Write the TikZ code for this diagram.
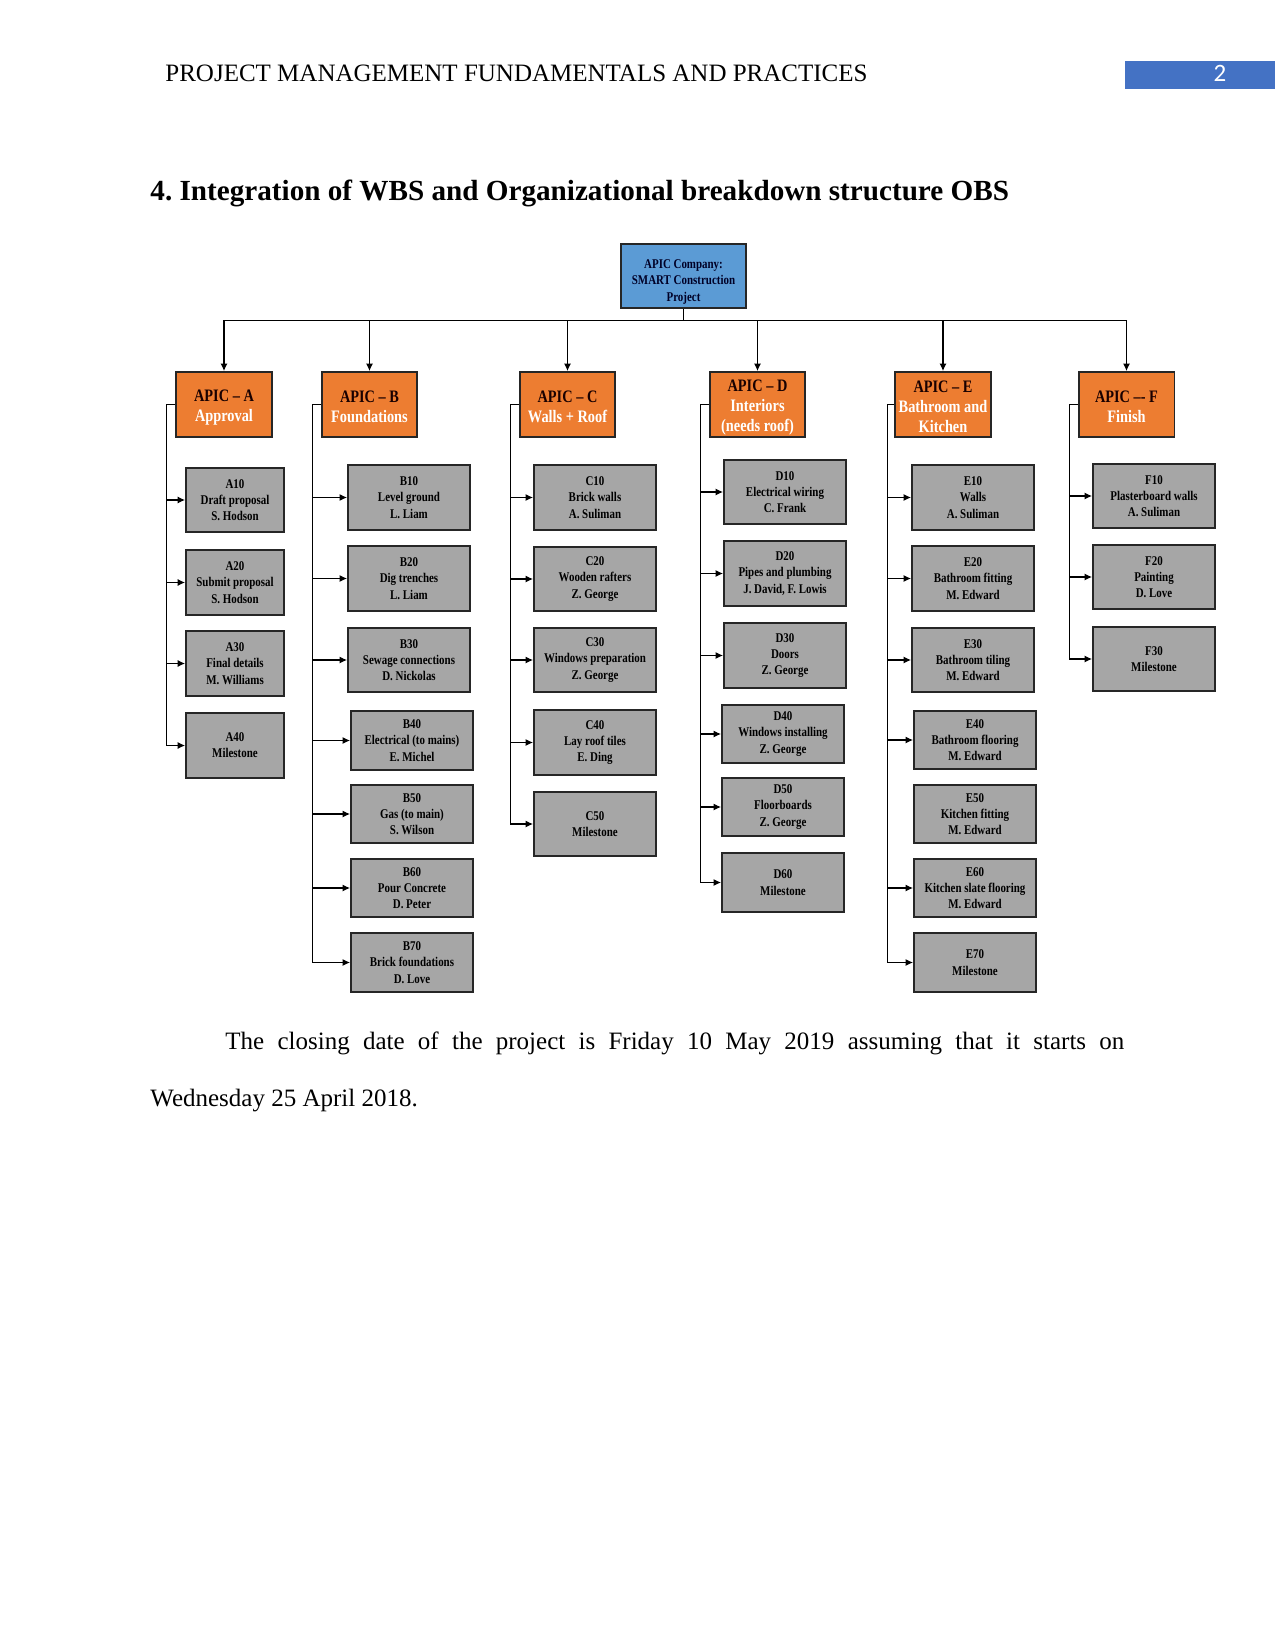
\documentclass[tikz,border=0pt]{standalone}
\usepackage{fontspec}
\setmainfont{Liberation Serif}
\newfontfamily\chartfont[FakeStretch=0.82]{Liberation Serif}
\newfontfamily\numfont{Carlito}
\usepackage{xcolor}
\usepackage{tikz}
\usetikzlibrary{arrows.meta, positioning, calc}

\definecolor{apicblue}{HTML}{5B9BD5}
\definecolor{apicorange}{HTML}{ED7D31}
\definecolor{taskgray}{HTML}{A6A6A6}
\definecolor{pageblue}{HTML}{4472C4}
\definecolor{boxline}{HTML}{262626}

\begin{document}
\begin{tikzpicture}[x=0.48pt, y=-0.48pt,
    root/.style={rectangle, draw=boxline, line width=0.9pt, fill=apicblue, align=center, inner sep=1pt, minimum width=60pt, minimum height=30.7pt, text height=25.6pt, font=\chartfont\bfseries\fontsize{6.4}{7.8}\selectfont, text=black!85!blue},
    phase/.style={rectangle, draw=boxline, line width=0.9pt, fill=apicorange, align=center, inner sep=1pt, minimum width=46pt, minimum height=31.2pt, text height=17.7pt, font=\chartfont\bfseries\fontsize{8.4}{9.6}\selectfont, text=black!90!red},
    phase3/.style={phase, text height=27.4pt},
    task/.style={rectangle, draw=boxline, line width=0.9pt, fill=taskgray, align=center, inner sep=1pt, minimum width=58.6pt, minimum height=31pt, font=\chartfont\bfseries\fontsize{6.4}{7.8}\selectfont, text=black},
    tasklow/.style={task, minimum height=28pt},
    taska/.style={task, minimum width=47pt},
    arr/.style={-{Latex[length=3.6pt, width=3.4pt]}, line width=0.55pt},
    spine/.style={line width=0.8pt}
]
    \useasboundingbox (0,0) rectangle (1275,1650);

    % page header
    \node[anchor=base west, inner sep=0pt, font=\fontsize{12}{14}\selectfont] (header) at (165,82) {PROJECT MANAGEMENT FUNDAMENTALS AND PRACTICES};
    \node[fill=pageblue, anchor=north west, inner sep=0pt, minimum width=72pt, minimum height=13.4pt] (pagebox) at (1125,61) {};
    \node[anchor=base, inner sep=0pt, text=white, font=\numfont\fontsize{12}{14}\selectfont] (pagenum) at (1220,82) {2};

    \node[anchor=base west, inner sep=0pt, font=\bfseries\fontsize{14}{16}\selectfont] (title) at (150,201) {4.\ Integration of WBS and Organizational breakdown structure OBS};

    % project and phases
    \node[root] (project) at (683.5,276) {APIC Company:\\SMART Construction\\Project};

    \node[phase] (pa) at (224,404.5) {APIC – A\\\textcolor{white}{Approval}};
    \node[phase] (pb) at (369.5,404.5) {APIC – B\\\textcolor{white}{Foundations}};
    \node[phase] (pc) at (567.5,404.5) {APIC – C\\\textcolor{white}{Walls + Roof}};
    \node[phase3] (pd) at (757.5,404.5) {APIC – D\\\textcolor{white}{Interiors}\\\textcolor{white}{(needs roof)}};
    \node[phase3] (pe) at (943,404.5) {APIC – E\\\textcolor{white}{Bathroom and}\\\textcolor{white}{Kitchen}};
    \node[phase] (pf) at (1126.5,404.5) {APIC –- F\\\textcolor{white}{Finish}};

    \draw[spine] (project.south) -- ++(0,12) coordinate (bus);
    \foreach \p in {pa,pb,pc,pd,pe,pf}
        \draw[arr] (bus) -| (\p.north);

    % A
    \node[taska] (a10) at (235,500) {A10\\Draft proposal\\S. Hodson};
    \node[taska] (a20) at (235,582.5) {A20\\Submit proposal\\S. Hodson};
    \node[taska] (a30) at (235,663.5) {A30\\Final details\\M. Williams};
    \node[taska] (a40) at (235,745.5) {A40\\Milestone};

    % B
    \node[task] (b10) at (409,497.5) {B10\\Level ground\\L. Liam};
    \node[task] (b20) at (409,578.5) {B20\\Dig trenches\\L. Liam};
    \node[task] (b30) at (409,660) {B30\\Sewage connections\\D. Nickolas};
    \node[tasklow] (b40) at (412,740.5) {B40\\Electrical (to mains)\\E. Michel};
    \node[tasklow] (b50) at (412,814) {B50\\Gas (to main)\\S. Wilson};
    \node[tasklow] (b60) at (412,888) {B60\\Pour Concrete\\D. Peter};
    \node[tasklow] (b70) at (412,962.5) {B70\\Brick foundations\\D. Love};

    % C
    \node[task] (c10) at (595,497.5) {C10\\Brick walls\\A. Suliman};
    \node[task] (c20) at (595,579) {C20\\Wooden rafters\\Z. George};
    \node[task] (c30) at (595,660) {C30\\Windows preparation\\Z. George};
    \node[task] (c40) at (595,742.5) {C40\\Lay roof tiles\\E. Ding};
    \node[task] (c50) at (595,824) {C50\\Milestone};

    % D
    \node[task] (d10) at (785,492) {D10\\Electrical wiring\\C. Frank};
    \node[task] (d20) at (785,573.5) {D20\\Pipes and plumbing\\J. David, F. Lowis};
    \node[task] (d30) at (785,655.5) {D30\\Doors\\Z. George};
    \node[tasklow] (d40) at (783,734) {D40\\Windows installing\\Z. George};
    \node[tasklow] (d50) at (783,807) {D50\\Floorboards\\Z. George};
    \node[tasklow] (d60) at (783,882.5) {D60\\Milestone};

    % E
    \node[task] (e10) at (973,497.5) {E10\\Walls\\A. Suliman};
    \node[task] (e20) at (973,578.5) {E20\\Bathroom fitting\\M. Edward};
    \node[task] (e30) at (973,660) {E30\\Bathroom tiling\\M. Edward};
    \node[tasklow] (e40) at (975,740) {E40\\Bathroom flooring\\M. Edward};
    \node[tasklow] (e50) at (975,814) {E50\\Kitchen fitting\\M. Edward};
    \node[tasklow] (e60) at (975,888) {E60\\Kitchen slate flooring\\M. Edward};
    \node[tasklow] (e70) at (975,962.5) {E70\\Milestone};

    % F
    \node[task] (f10) at (1154,496) {F10\\Plasterboard walls\\A. Suliman};
    \node[task] (f20) at (1154,577) {F20\\Painting\\D. Love};
    \node[task] (f30) at (1154,659) {F30\\Milestone};

    % spines (E50 has no arrow in the chart)
    \draw[spine] (pa.west) -- ++(-9,0) coordinate (sa);
    \draw[spine] (pb.west) -- ++(-8,0) coordinate (sb);
    \draw[spine] (pc.west) -- ++(-8,0) coordinate (sc);
    \draw[spine] (pd.west) -- ++(-8,0) coordinate (sd);
    \draw[spine] (pe.west) -- ++(-7,0) coordinate (se);
    \draw[spine] (pf.west) -- ++(-8,0) coordinate (sf);
    \foreach \t in {a10,a20,a30,a40} \draw[arr] (sa) |- (\t.west);
    \foreach \t in {b10,b20,b30,b40,b50,b60,b70} \draw[arr] (sb) |- (\t.west);
    \foreach \t in {c10,c20,c30,c40,c50} \draw[arr] (sc) |- (\t.west);
    \foreach \t in {d10,d20,d30,d40,d50,d60} \draw[arr] (sd) |- (\t.west);
    \foreach \t in {e10,e20,e30,e40,e60,e70} \draw[arr] (se) |- (\t.west);
    \foreach \t in {f10,f20,f30} \draw[arr] (sf) |- (\t.west);

    % text under the chart
    \node[anchor=base west, inner sep=0pt, text width=467.5pt, align=justify, font=\fontsize{12}{27.4}\selectfont] (closing) at (150,1049) {\hspace*{36pt}The closing date of the project is Friday 10 May 2019 assuming that it starts on\linebreak Wednesday 25 April 2018.};
\end{tikzpicture}
\end{document}
